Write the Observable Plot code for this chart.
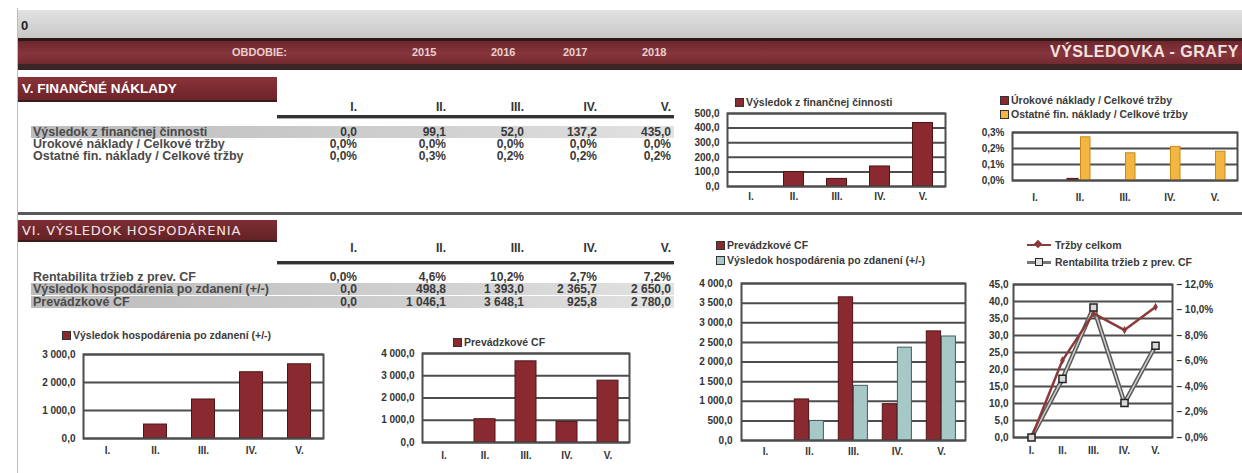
<!DOCTYPE html>
<html><head><meta charset="utf-8">
<script src="https://cdn.jsdelivr.net/npm/d3@7"></script>
<script src="https://cdn.jsdelivr.net/npm/@observablehq/plot@0.6"></script>
<style>
body{margin:0;background:#fff;}
#page{position:relative;width:1242px;height:473px;overflow:hidden;background:#fff;font-family:"Liberation Sans",Arial,sans-serif;font-weight:bold;color:#3c3c3c;}
.abs{position:absolute;white-space:nowrap;}
</style></head><body><div id="page"></div>
<script>
// ---------- data ----------
const cats = ["I.", "II.", "III.", "IV.", "V."];
const years = ["2015", "2016", "2017", "2018"];
const finVysledok = [0.0, 99.1, 52.0, 137.2, 435.0];
const urokoveNaklady = [0.0, 0.01, 0.0, 0.0, 0.0];      // % of tržby
const ostatneFinNaklady = [0.0, 0.27, 0.17, 0.21, 0.18]; // % of tržby
const rentabilita = [0.0, 4.6, 10.2, 2.7, 7.2];          // %
const vysledokPoZdaneni = [0.0, 498.8, 1393.0, 2365.7, 2650.0];
const prevadzkoveCF = [0.0, 1046.1, 3648.1, 925.8, 2780.0];
const trzbyCelkom = [0.0, 22.7, 36.5, 31.6, 38.4];
const ticksFin = [0, 100, 200, 300, 400, 500];
const ticksPct03 = [0, 0.1, 0.2, 0.3];
const ticks3000 = [0, 1000, 2000, 3000];
const ticks4000 = [0, 1000, 2000, 3000, 4000];
const ticks4000b = [0, 500, 1000, 1500, 2000, 2500, 3000, 3500, 4000];
const ticks45 = [0, 5, 10, 15, 20, 25, 30, 35, 40, 45];
const ticksPct12 = [0, 2, 4, 6, 8, 10, 12];

// ---------- helpers ----------
const page = document.getElementById("page");
const FONT = '"Liberation Sans", Arial, sans-serif';
const MAROON = "#8a2a30", MAROON_D = "#4e1418", TEAL = "#a6c9c8", TEAL_D = "#3f5f5f", YELLOW = "#f3b640", GRID = "#4d4d4d";
const fmtNum = v => d3.format(",.1f")(v).replace(/,/g, "\u00a0").replace(".", ",");
const fmtPct = v => d3.format(".1f")(v).replace(".", ",") + "%";
function el(css, text) {
  const e = document.createElement("div");
  e.className = "abs";
  Object.assign(e.style, css);
  if (text != null) e.textContent = text;
  page.appendChild(e);
  return e;
}
function textAt(x, cy, text, size, extra) {
  const lh = Math.round(size);
  return el(Object.assign({left: x + "px", top: (cy - lh / 2) + "px", lineHeight: lh + "px", fontSize: size + "px"}, extra || {}), text);
}
function textRight(r, cy, text, size, extra) {
  const lh = Math.round(size);
  return el(Object.assign({left: (r - 150) + "px", width: "150px", textAlign: "right", top: (cy - lh / 2) + "px", lineHeight: lh + "px", fontSize: size + "px"}, extra || {}), text);
}
function legendItem(x, cy, color, text, stroke) {
  el({left: x + "px", top: (cy - 4) + "px", width: "7px", height: "7px", background: color, border: "1px solid " + (stroke || "#333")});
  textAt(x + 11, cy, text, 10.5, {color: "#3a3a3a"});
}
function place(svg, left, top) {
  svg.style.position = "absolute";
  svg.style.left = left + "px";
  svg.style.top = top + "px";
  page.appendChild(svg);
}
const rowsOf = vals => cats.map((c, i) => ({cat: c, v: vals[i]}));

function barChart(o) {
  const marks = [Plot.ruleY(o.ticks, {stroke: GRID, strokeWidth: 2})];
  for (const s of o.series) {
    marks.push(Plot.barY(rowsOf(s.values), {x: "cat", y: "v", fill: s.fill, stroke: s.stroke, strokeWidth: 1, insetLeft: s.il, insetRight: s.ir}));
  }
  marks.push(Plot.frame({stroke: GRID, strokeWidth: 2}));
  const svg = Plot.plot({
    width: o.width, height: o.height,
    marginLeft: o.ml, marginRight: o.mr, marginTop: o.mt, marginBottom: o.mb,
    style: {fontFamily: FONT, fontSize: "10px", fontWeight: "bold", color: "#333", background: "transparent", overflow: "visible"},
    x: {domain: cats, padding: 0, label: null, tickSize: 0, tickPadding: o.xpad},
    y: {domain: o.domain, ticks: o.ticks, tickFormat: o.fmt, tickSize: 0, tickPadding: o.ypad, label: null},
    marks
  });
  place(svg, o.left, o.top);
}

// ---------- page chrome ----------
el({left: "17px", top: "8px", width: "1px", height: "465px", background: "#bdbdbd"});
el({left: "18px", top: "10px", width: "1224px", height: "28px", background: "linear-gradient(#e2e2e2,#c8c8c8)"});
textAt(21, 25, "0", 13, {color: "#222"});
el({left: "18px", top: "38px", width: "1224px", height: "23px", background: "linear-gradient(#6e262c,#86363c 55%,#722a30)", borderTop: "3px solid #2c1a1a", borderBottom: "6px solid #3b2526"});
textAt(232, 52, "OBDOBIE:", 11, {color: "#e9cfcf"});
const yearX = [412, 491, 563, 642];
years.forEach((y, i) => textAt(yearX[i], 52, y, 11, {color: "#e9cfcf"}));
textAt(1050, 52, "VÝSLEDOVKA - GRAFY", 16, {color: "#f2e2e2", letterSpacing: "0.5px"});

// section V
el({left: "18px", top: "77px", width: "259px", height: "23px", background: "linear-gradient(#8a3238,#6c2429)", borderBottom: "2px solid #3a1c1e"});
textAt(22, 89, "V. FINANČNÉ NÁKLADY", 13.5, {color: "#ffffff"});

const colRight = [357, 446, 524, 597, 671];
function table(headerY, ruleY, rows) {
  cats.forEach((c, i) => textRight(colRight[i], headerY, c, 12, {color: "#333"}));
  el({left: "277px", top: ruleY + "px", width: "397px", height: "3px", background: "#333", borderBottom: "1px solid #aaa"});
  rows.forEach(r => {
    if (r.band) el({left: "31px", top: (r.y - 6) + "px", width: "643px", height: "12px", background: "linear-gradient(to right,#bcbcbc,#cfcfcf 60%,#e2e2e2)"});
    textAt(33, r.y, r.label, 12.5, {color: "#4a4a4a"});
    r.values.forEach((v, i) => textRight(colRight[i], r.y, r.fmt(v), 12, {color: "#3a3a3a"}));
  });
}
table(107, 115, [
  {label: "Výsledok z finančnej činnosti", values: finVysledok, fmt: fmtNum, y: 132, band: true},
  {label: "Úrokové náklady / Celkové tržby", values: urokoveNaklady, fmt: fmtPct, y: 144},
  {label: "Ostatné fin. náklady / Celkové tržby", values: ostatneFinNaklady, fmt: fmtPct, y: 156}
]);

// separator + section VI
el({left: "18px", top: "212px", width: "1224px", height: "3px", background: "#5a5a5a"});
el({left: "18px", top: "220px", width: "259px", height: "20px", background: "linear-gradient(#7e2e34,#632226)", borderBottom: "2px solid #3a1c1e"});
textAt(22, 230, "VI. VÝSLEDOK HOSPODÁRENIA", 13, {color: "#f4e6e6", letterSpacing: "0.8px", fontWeight: "normal", fontFamily: '"DejaVu Sans", sans-serif'});
table(248, 261, [
  {label: "Rentabilita tržieb z prev. CF", values: rentabilita, fmt: fmtPct, y: 277},
  {label: "Výsledok hospodárenia po zdanení (+/-)", values: vysledokPoZdaneni, fmt: fmtNum, y: 289, band: true},
  {label: "Prevádzkové CF", values: prevadzkoveCF, fmt: fmtNum, y: 302, band: true}
]);

// ---------- charts ----------
// Chart 1: Výsledok z finančnej činnosti
legendItem(735, 102, MAROON, "Výsledok z finančnej činnosti");
barChart({left: 680, top: 106, width: 270, height: 100, ml: 47, mr: 5, mt: 7, mb: 20, xpad: 6, ypad: 8,
  domain: [0, 500], ticks: ticksFin, fmt: fmtNum,
  series: [{values: finVysledok, fill: MAROON, stroke: MAROON_D, il: 11.5, ir: 11.5}]});

// Chart 2: cost ratios
legendItem(1000, 100, MAROON, "Úrokové náklady / Celkové tržby");
legendItem(1000, 114, YELLOW, "Ostatné fin. náklady / Celkové tržby");
barChart({left: 965, top: 125, width: 277, height: 85, ml: 47, mr: 5, mt: 7, mb: 30, xpad: 13, ypad: 8,
  domain: [0, 0.3], ticks: ticksPct03, fmt: fmtPct,
  series: [
    {values: urokoveNaklady, fill: MAROON, stroke: MAROON_D, il: 10, ir: 24},
    {values: ostatneFinNaklady, fill: YELLOW, stroke: "#c98a1a", il: 23.5, ir: 12}
  ]});

// Chart 3: Výsledok hospodárenia po zdanení
legendItem(62, 335, MAROON, "Výsledok hospodárenia po zdanení (+/-)");
barChart({left: 5, top: 347, width: 320, height: 120, ml: 78, mr: 2, mt: 7, mb: 29, xpad: 8, ypad: 8,
  domain: [0, 3000], ticks: ticks3000, fmt: fmtNum,
  series: [{values: vysledokPoZdaneni, fill: MAROON, stroke: MAROON_D, il: 12.5, ir: 12.5}]});

// Chart 4: Prevádzkové CF
legendItem(453, 342, MAROON, "Prevádzkové CF");
barChart({left: 360, top: 346, width: 275, height: 120, ml: 62, mr: 6, mt: 7, mb: 24, xpad: 9, ypad: 8,
  domain: [0, 4000], ticks: ticks4000, fmt: fmtNum,
  series: [{values: prevadzkoveCF, fill: MAROON, stroke: MAROON_D, il: 10, ir: 10}]});

// Chart 5: grouped
legendItem(716, 245, MAROON, "Prevádzkové CF");
legendItem(716, 260, TEAL, "Výsledok hospodárenia po zdanení (+/-)");
barChart({left: 680, top: 276, width: 290, height: 190, ml: 61, mr: 5, mt: 7, mb: 26, xpad: 7, ypad: 9,
  domain: [0, 4000], ticks: ticks4000b, fmt: fmtNum,
  series: [
    {values: prevadzkoveCF, fill: MAROON, stroke: MAROON_D, il: 7.3, ir: 22.4},
    {values: vysledokPoZdaneni, fill: TEAL, stroke: TEAL_D, il: 22.4, ir: 7.6}
  ]});

// Chart 6: lines with dual axis (right axis: % scaled onto the left 0–45 axis)
const k = 45 / 12;
const lineRows = cats.map((c, i) => ({cat: c, trzby: trzbyCelkom[i], rent: rentabilita[i] * k}));
el({left: "1027px", top: "244px", width: "24px", height: "2px", background: "#8b3a3a"});
el({left: "1035px", top: "241px", width: "6px", height: "6px", background: "#8b3a3a", transform: "rotate(45deg)"});
textAt(1055, 245, "Tržby celkom", 10.5, {color: "#3a3a3a"});
el({left: "1027px", top: "261px", width: "24px", height: "3px", background: "#777"});
el({left: "1035px", top: "258px", width: "6px", height: "6px", background: "#ddd", border: "1px solid #222"});
textAt(1055, 262, "Rentabilita tržieb z prev. CF", 10.5, {color: "#3a3a3a"});
{
  const svg = Plot.plot({
    width: 272, height: 190, marginLeft: 43, marginRight: 70, marginTop: 7, marginBottom: 30,
    style: {fontFamily: FONT, fontSize: "10px", fontWeight: "bold", color: "#333", background: "transparent", overflow: "visible"},
    x: {type: "point", domain: cats, padding: 0.5, label: null, tickSize: 0, tickPadding: 9},
    y: {domain: [0, 45], ticks: ticks45, tickFormat: fmtNum, tickSize: 0, tickPadding: 5, label: null},
    marks: [
      Plot.ruleY(ticks45, {stroke: GRID, strokeWidth: 2}),
      Plot.frame({stroke: GRID, strokeWidth: 2}),
      Plot.line(lineRows, {x: "cat", y: "rent", stroke: "#5a5a5a", strokeWidth: 4.5}),
      Plot.line(lineRows, {x: "cat", y: "rent", stroke: "#cfcfcf", strokeWidth: 1.5}),
      Plot.line(lineRows, {x: "cat", y: "trzby", stroke: "#8b3a3a", strokeWidth: 2.5}),
      Plot.dot(lineRows, {x: "cat", y: "trzby", symbol: "diamond", r: 2.5, fill: "#8b3a3a"}),
      Plot.dot(lineRows, {x: "cat", y: "rent", symbol: "square", r: 4, fill: "#d8d8d8", stroke: "#222", strokeWidth: 1.5}),
      Plot.text(ticksPct12, {y: d => d * k, text: d => "– " + fmtPct(d), frameAnchor: "right", dx: 4, textAnchor: "start", fill: "#333"})
    ]
  });
  place(svg, 970, 277);
}
</script></body></html>
